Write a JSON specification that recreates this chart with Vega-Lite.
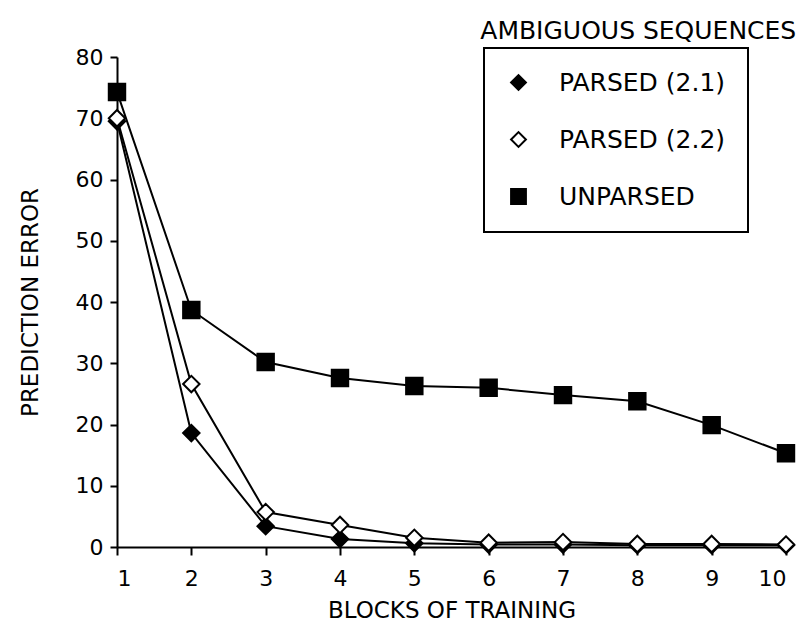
{
  "$schema": "https://vega.github.io/schema/vega-lite/v6.json",
  "autosize": "none",
  "width": 669,
  "height": 490,
  "padding": {"left": 117, "top": 57, "right": 18, "bottom": 91},
  "background": "white",
  "title": {
    "text": "AMBIGUOUS SEQUENCES",
    "anchor": "end",
    "orient": "top",
    "offset": 2,
    "dx": -2,
    "font": "DejaVu Sans",
    "fontSize": 25,
    "fontWeight": "normal",
    "color": "black"
  },
  "config": {
    "view": {"stroke": null},
    "axis": {
      "domainColor": "black",
      "domainWidth": 2,
      "tickColor": "black",
      "tickWidth": 2,
      "grid": false,
      "labelFont": "DejaVu Sans",
      "labelFontSize": 22,
      "labelColor": "black",
      "titleFont": "DejaVu Sans",
      "titleFontSize": 23,
      "titleFontWeight": "normal",
      "titleColor": "black"
    },
    "legend": {
      "title": null,
      "orient": "none",
      "legendX": 367,
      "legendY": -9,
      "strokeColor": "black",
      "strokeWidth": 2,
      "padding": 22,
      "rowPadding": 31,
      "labelFont": "DejaVu Sans",
      "labelFontSize": 25,
      "labelColor": "black",
      "labelOffset": 28,
      "labelLimit": 0,
      "symbolSize": 220,
      "symbolStrokeWidth": 2,
      "symbolStrokeColor": "black",
      "symbolOpacity": 1
    }
  },
  "data": {
    "values": [
      {"series": "P1", "block": 1, "error": 69.5},
      {"series": "P1", "block": 2, "error": 18.6},
      {"series": "P1", "block": 3, "error": 3.4},
      {"series": "P1", "block": 4, "error": 1.3},
      {"series": "P1", "block": 5, "error": 0.6},
      {"series": "P1", "block": 6, "error": 0.4},
      {"series": "P1", "block": 7, "error": 0.4},
      {"series": "P1", "block": 8, "error": 0.3},
      {"series": "P1", "block": 9, "error": 0.3},
      {"series": "P1", "block": 10, "error": 0.3},
      {"series": "P2", "block": 1, "error": 70.0},
      {"series": "P2", "block": 2, "error": 26.6},
      {"series": "P2", "block": 3, "error": 5.7},
      {"series": "P2", "block": 4, "error": 3.6},
      {"series": "P2", "block": 5, "error": 1.5},
      {"series": "P2", "block": 6, "error": 0.7},
      {"series": "P2", "block": 7, "error": 0.8},
      {"series": "P2", "block": 8, "error": 0.5},
      {"series": "P2", "block": 9, "error": 0.5},
      {"series": "P2", "block": 10, "error": 0.4},
      {"series": "U", "block": 1, "error": 74.3},
      {"series": "U", "block": 2, "error": 38.7},
      {"series": "U", "block": 3, "error": 30.2},
      {"series": "U", "block": 4, "error": 27.6},
      {"series": "U", "block": 5, "error": 26.3},
      {"series": "U", "block": 6, "error": 26.0},
      {"series": "U", "block": 7, "error": 24.8},
      {"series": "U", "block": 8, "error": 23.8},
      {"series": "U", "block": 9, "error": 19.9},
      {"series": "U", "block": 10, "error": 15.3}
    ]
  },
  "encoding": {
    "x": {
      "field": "block",
      "type": "quantitative",
      "scale": {"domain": [1, 10], "nice": false, "zero": false},
      "axis": {"values": [1,2,3,4,5,6,7,8,9,10], "title": "BLOCKS OF TRAINING", "tickSize": 8, "labelPadding": 13, "titlePadding": 10}
    },
    "y": {
      "field": "error",
      "type": "quantitative",
      "scale": {"domain": [0, 80], "nice": false},
      "axis": {"values": [0,10,20,30,40,50,60,70,80], "title": "PREDICTION ERROR", "tickSize": 7, "labelPadding": 7, "titlePadding": 33}
    }
  },
  "layer": [
    {
      "mark": {"type": "line", "color": "black", "strokeWidth": 2},
      "encoding": {"detail": {"field": "series", "type": "nominal"}}
    },
    {
      "mark": {"type": "point", "stroke": "black", "strokeWidth": 2, "opacity": 1, "filled": false},
      "encoding": {
        "shape": {
          "field": "series", "type": "nominal",
          "scale": {"domain": ["P1", "P2", "U"], "range": ["diamond", "diamond", "square"]},
          "legend": {
            "labelExpr": "datum.value == 'P1' ? 'PARSED (2.1)' : datum.value == 'P2' ? 'PARSED (2.2)' : 'UNPARSED'",
            "encode": {"symbols": {"update": {"stroke": {"value": "black"}, "strokeWidth": {"value": 2}, "opacity": {"value": 1}}}}
          }
        },
        "fill": {
          "field": "series", "type": "nominal",
          "scale": {"domain": ["P1", "P2", "U"], "range": ["black", "white", "black"]},
          "legend": {
            "labelExpr": "datum.value == 'P1' ? 'PARSED (2.1)' : datum.value == 'P2' ? 'PARSED (2.2)' : 'UNPARSED'",
            "encode": {"symbols": {"update": {"stroke": {"value": "black"}, "strokeWidth": {"value": 2}, "opacity": {"value": 1}}}}
          }
        },
        "size": {"value": 270}
      }
    }
  ]
}
